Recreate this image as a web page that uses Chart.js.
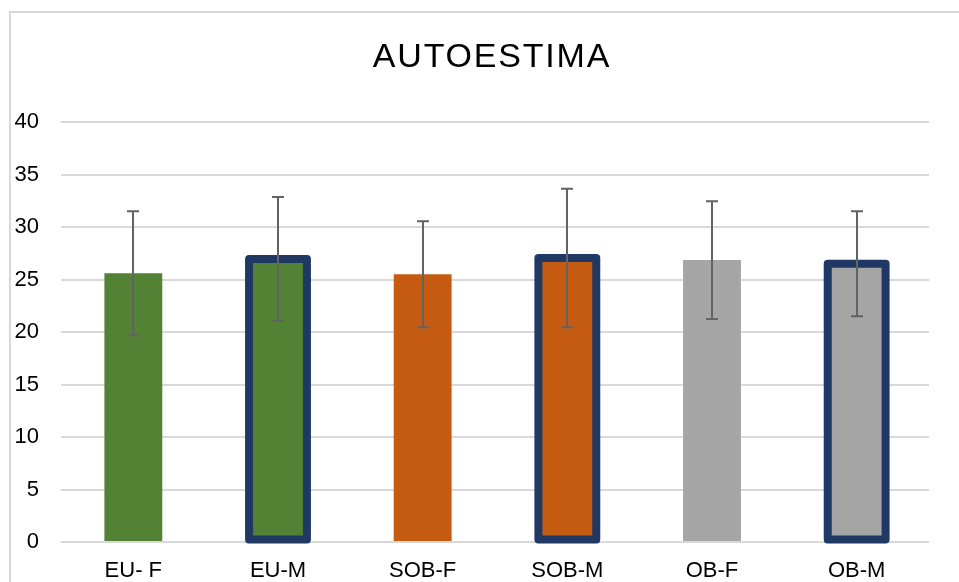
<!DOCTYPE html>
<html>
<head>
<meta charset="utf-8">
<script src="https://cdn.jsdelivr.net/npm/chart.js@4.4.0/dist/chart.umd.min.js"></script>
<style>
  html, body { margin: 0; padding: 0; background: #fff; overflow: hidden; }
  #wrap { position: relative; width: 959px; height: 582px; }
</style>
</head>
<body>
<div id="wrap"><canvas id="c" width="959" height="582"></canvas></div>
<script>
// ---- data ----
const categories = ['EU- F', 'EU-M', 'SOB-F', 'SOB-M', 'OB-F', 'OB-M'];
const means = [25.6, 26.95, 25.5, 27.05, 26.85, 26.5];
const sds = [5.9, 5.9, 5.05, 6.6, 5.6, 5.0];
const outlined = [false, true, false, true, false, true];
const yTicks = [0, 5, 10, 15, 20, 25, 30, 35, 40];
const titleText = 'AUTOESTIMA';

const FONT = '"Liberation Sans", Arial, Helvetica, sans-serif';
const fills = ['#548235', '#548235', '#C55A11', '#C55A11', '#A5A5A5', '#A5A5A5'];
const outlineColor = '#203864';

const framePlugin = {
  id: 'frame',
  beforeDraw(chart) {
    const ctx = chart.ctx;
    ctx.save();
    ctx.fillStyle = '#fff';
    ctx.fillRect(0, 0, chart.width, chart.height);
    ctx.fillStyle = '#d9d9d9';
    ctx.fillRect(9, 11, 2, chart.height - 11);
    ctx.fillRect(9, 11, chart.width - 9, 2);
    ctx.restore();
  },
  afterDraw(chart) {
    const ctx = chart.ctx;
    ctx.save();
    ctx.fillStyle = '#000';
    ctx.font = '34px ' + FONT;
    ctx.textAlign = 'center';
    ctx.textBaseline = 'alphabetic';
    if ('letterSpacing' in ctx) ctx.letterSpacing = '1.8px';
    ctx.fillText(titleText, 492, 67);
    ctx.restore();
  }
};

const outlineErrPlugin = {
  id: 'outlineErr',
  afterDatasetsDraw(chart) {
    const ctx = chart.ctx;
    const meta = chart.getDatasetMeta(0);
    const y = chart.scales.y;
    ctx.save();
    // outlines
    meta.data.forEach((bar, i) => {
      if (!outlined[i]) return;
      const w = bar.width;
      const left = bar.x - w / 2;
      const top = bar.y;
      const bottom = bar.base - 1.5;
      ctx.lineWidth = 8;
      ctx.strokeStyle = outlineColor;
      ctx.lineJoin = 'round';
      ctx.beginPath();
      ctx.rect(left, top, w, bottom - top);
      ctx.stroke();
    });
    // error bars
    ctx.strokeStyle = '#636363';
    ctx.lineWidth = 2;
    ctx.lineCap = 'butt';
    meta.data.forEach((bar, i) => {
      const hi = y.getPixelForValue(means[i] + sds[i]);
      const lo = y.getPixelForValue(means[i] - sds[i]);
      const x = Math.round(bar.x);
      const cw = 6;
      ctx.beginPath();
      ctx.moveTo(x, hi); ctx.lineTo(x, lo);
      ctx.moveTo(x - cw, hi); ctx.lineTo(x + cw, hi);
      ctx.moveTo(x - cw, lo); ctx.lineTo(x + cw, lo);
      ctx.stroke();
    });
    ctx.restore();
  }
};

new Chart(document.getElementById('c'), {
  type: 'bar',
  data: {
    labels: categories,
    datasets: [{
      data: means,
      backgroundColor: fills,
      borderWidth: 0,
      barPercentage: 0.4,
      categoryPercentage: 1.0
    }]
  },
  options: {
    responsive: false,
    animation: false,
    layout: { padding: { top: 122, left: 0, right: 30, bottom: 0 } },
    plugins: {
      legend: { display: false },
      title: { display: false },
      tooltip: { enabled: false }
    },
    scales: {
      x: {
        grid: { display: false, drawTicks: false },
        border: { display: false },
        ticks: { color: '#000', font: { family: FONT, size: 22 }, padding: 16, maxRotation: 0 },
        afterFit(scale) { scale.height = 40; }
      },
      y: {
        min: 0, max: 40,
        afterBuildTicks(scale) { scale.ticks = yTicks.map(v => ({ value: v })); },
        grid: { color: '#d9d9d9', lineWidth: 2, drawTicks: false },
        border: { display: false },
        ticks: { color: '#000', font: { family: FONT, size: 22 }, padding: 22 },
        afterFit(scale) { scale.width = 61; }
      }
    }
  },
  plugins: [framePlugin, outlineErrPlugin]
});
</script>
</body>
</html>
